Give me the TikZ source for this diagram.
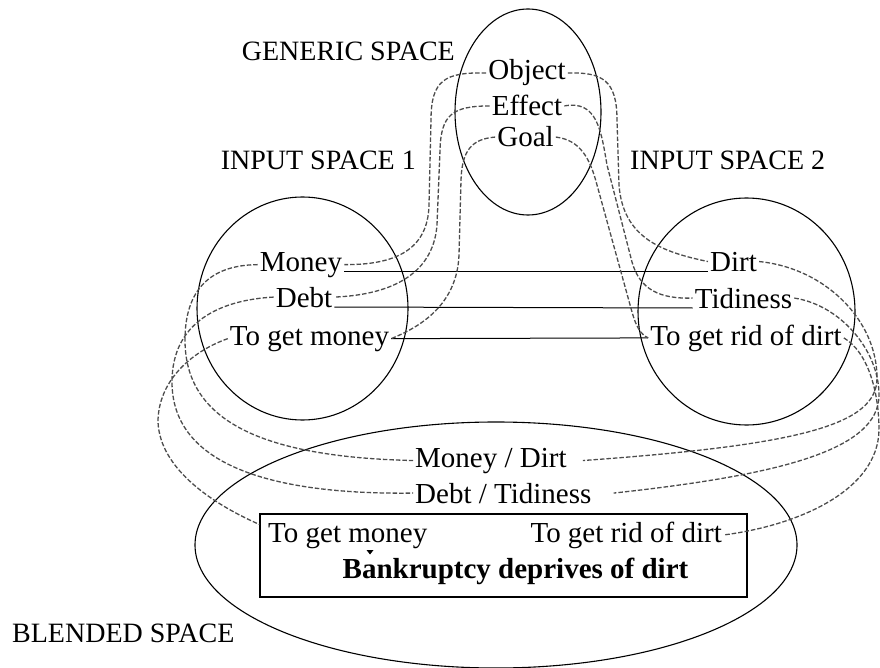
\documentclass[tikz,border=0pt]{standalone}
\usepackage{fontspec}
\setmainfont{Liberation Serif}
\usetikzlibrary{shapes.geometric}
\begin{document}
\begin{tikzpicture}[x=1pt,y=-1pt,
  txt/.style={inner sep=2pt, anchor=base, font=\fontsize{29}{32}\selectfont},
  title/.style={inner sep=0pt, anchor=base, font=\fontsize{28}{32}\selectfont},
  space/.style={draw, ellipse, line width=1.1pt, inner sep=0pt},
  link/.style={line width=1.3pt, black!70, dash pattern=on 4.5pt off 2pt},
  bar/.style={line width=1pt}]
\useasboundingbox (0,0) rectangle (880,668);

% the four spaces
\node[space, minimum width=146pt, minimum height=206pt] (gen) at (528,112) {};
\node[space, minimum width=211pt, minimum height=223pt] (in1) at (302.5,308.5) {};
\node[space, minimum width=217pt, minimum height=227pt] (in2) at (746.5,311.5) {};
\node[space, minimum width=602pt, minimum height=246pt] (bl) at (496,545) {};

% space titles
\node[title, anchor=base east] (tgen) at (455,61) {GENERIC SPACE};
\node[title, anchor=base east] (tin1) at (416,170) {INPUT SPACE 1};
\node[title, anchor=base west] (tin2) at (630,170) {INPUT SPACE 2};
\node[title, anchor=base west] (tbl) at (12,642) {BLENDED SPACE};

% generic space
\node[txt] (obj) at (527,80) {Object};
\node[txt] (eff) at (527,116) {Effect};
\node[txt] (goal) at (525.5,147) {Goal};

% input space 1
\node[txt] (money) at (301,271) {Money};
\node[txt] (debt) at (304,307) {Debt};
\node[txt] (tgm) at (309.5,345) {To get money};

% input space 2
\node[txt] (dirt) at (733.5,271) {Dirt};
\node[txt] (tid) at (743.5,308) {Tidiness};
\node[txt] (tgr) at (746,345) {To get rid of dirt};

% blended space
\node[txt, anchor=base west] (md) at (413,467) {Money / Dirt};
\node[txt, anchor=base west] (dt) at (413,503) {Debt / Tidiness};
\node[draw, line width=1.1pt, minimum width=487pt, minimum height=83pt, inner sep=0pt] (box) at (503.5,555.5) {};
\node[txt, anchor=base west] (bgm) at (266,542) {To get money};
\node[txt, anchor=base east] (bgr) at (724,542) {To get rid of dirt};
\node[txt, font=\fontsize{29}{32}\selectfont\bfseries] (res) at (515.5,578) {Bankruptcy deprives of dirt};
\fill (366.5,550) -- (373.5,550) -- (370,554.5) -- cycle;

% counterpart connections between the inputs
\draw[bar] (money.base east) -- (dirt.base west);
\draw[bar] (debt.base east) -- (tid.base west);
\draw[bar] (tgm.east) -- (tgr.west);

% generic space to input space 1
\draw[link] (obj.west) .. controls (445,72) and (431,80) .. (431,120)
  -- (429,205) .. controls (428,250) and (395,265) .. (money.east);
\draw[link] (eff.west) .. controls (452,106) and (441,115) .. (440,150)
  -- (437,225) .. controls (433,278) and (385,295) .. (debt.east);
\draw[link] (goal.west) .. controls (472,139) and (462,150) .. (461,180)
  -- (459,255) .. controls (457,305) and (420,327) .. (tgm.east);

% generic space to input space 2
\draw[link] (obj.east) .. controls (602,72) and (617,80) .. (617,120)
  -- (619,185) .. controls (623,238) and (662,252) .. (dirt.west);
\draw[link] (eff.east) .. controls (597,100) and (601,130) .. (607,165)
  -- (632,262) .. controls (640,290) and (660,299) .. (tid.west);
\draw[link] (goal.east) .. controls (580,140) and (590,158) .. (597,185)
  -- (632,312) .. controls (636,326) and (640,334) .. (tgr.west);

% input space 1 to blended space
\draw[link] (money.west) .. controls (210,265) and (185,290) .. (185,340)
  .. controls (185,420) and (260,457) .. (md.west);
\draw[link] (debt.west) .. controls (220,300) and (172,322) .. (172,382)
  .. controls (172,460) and (260,495) .. (dt.west);
\draw[link] (tgm.west) .. controls (190,352) and (158,382) .. (158,422)
  .. controls (160,470) and (215,505) .. ([yshift=-11pt]box.north west);

% input space 2 to blended space
\draw[link] (dirt.east) .. controls (825,268) and (877,320) .. (877,378)
  .. controls (877,425) and (800,445) .. ([xshift=14pt]md.east);
\draw[link] (tid.east) .. controls (840,305) and (879,350) .. (879,395)
  .. controls (879,450) and (780,475) .. ([xshift=20pt]dt.east);
\draw[link] (tgr.east) .. controls (868,352) and (879,392) .. (879,430)
  .. controls (878,490) and (800,525) .. (bgr.east);
\end{tikzpicture}
\end{document}
